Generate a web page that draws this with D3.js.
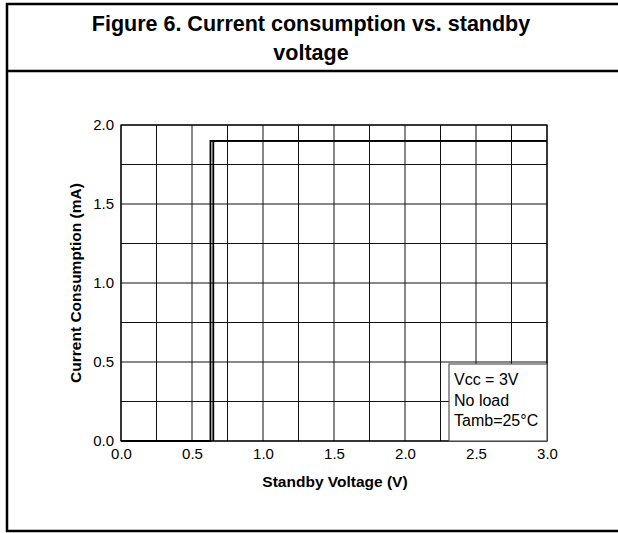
<!DOCTYPE html>
<html>
<head>
<meta charset="utf-8">
<script src="https://cdn.jsdelivr.net/npm/d3@7"></script>
<style>
  body { margin: 0; background: #fff; }
  svg { font-family: "Liberation Sans", Arial, sans-serif; }
</style>
</head>
<body>
<div id="chart"></div>
<script>
// Data
var xTicks = [0.0, 0.5, 1.0, 1.5, 2.0, 2.5, 3.0];
var yTicks = [0.0, 0.5, 1.0, 1.5, 2.0];
var riseVoltage = [0.0, 0.63, 0.63, 3.0];
var riseCurrent = [0.0, 0.0, 1.9, 1.9];
var fallVoltage = [0.65, 0.65, 3.0];
var fallCurrent = [0.0, 1.9, 1.9];
var noteLines = ["Vcc = 3V", "No load", "Tamb=25\u00b0C"];

(function () {
    var width = 618, height = 533;
    var plotLeft = 121, plotRight = 547, plotTop = 125, plotBottom = 441;

    var svg = d3.select('#chart')
        .append('svg')
        .attr('width', width)
        .attr('height', height);

    // outer frame and title separator
    svg.append('path')
        .attr('d', 'M620,4H7V531H620')
        .style('fill', 'none')
        .style('stroke', '#000')
        .style('stroke-width', 2.5);
    svg.append('line')
        .attr('x1', 7).attr('x2', 620)
        .attr('y1', 71).attr('y2', 71)
        .style('stroke', '#000')
        .style('stroke-width', 2.5);

    var title = svg.append('text')
        .attr('text-anchor', 'middle')
        .style('font-weight', 'bold')
        .style('font-size', '21.5px');
    title.append('tspan').attr('x', 311).attr('y', 31)
        .text('Figure 6. Current consumption vs. standby');
    title.append('tspan').attr('x', 311).attr('y', 60)
        .text('voltage');

    var x = d3.scaleLinear().domain([0, 3]).range([plotLeft, plotRight]);
    var y = d3.scaleLinear().domain([0, 2]).range([plotBottom, plotTop]);

    // grid, every 0.25
    var g = svg.append('g');
    g.selectAll('.vgrid').data(d3.range(0, 3.001, 0.25))
        .enter().append('line')
        .attr('class', 'vgrid')
        .attr('x1', function (d) { return x(d); })
        .attr('x2', function (d) { return x(d); })
        .attr('y1', plotTop).attr('y2', plotBottom)
        .style('stroke', '#111')
        .style('stroke-width', 1);
    g.selectAll('.hgrid').data(d3.range(0, 2.001, 0.25))
        .enter().append('line')
        .attr('class', 'hgrid')
        .attr('y1', function (d) { return y(d); })
        .attr('y2', function (d) { return y(d); })
        .attr('x1', plotLeft).attr('x2', plotRight)
        .style('stroke', '#111')
        .style('stroke-width', 1);

    // axes
    var xAxis = d3.axisBottom(x).tickValues(xTicks).tickSize(0).tickPadding(7)
        .tickFormat(d3.format('.1f'));
    var yAxis = d3.axisLeft(y).tickValues(yTicks).tickSize(0).tickPadding(7)
        .tickFormat(d3.format('.1f'));

    var gx = svg.append('g').attr('transform', 'translate(0,' + plotBottom + ')').call(xAxis);
    var gy = svg.append('g').attr('transform', 'translate(' + plotLeft + ',0)').call(yAxis);
    [gx, gy].forEach(function (a) {
        a.select('.domain').remove();
        a.selectAll('text')
            .style('font-family', '"Liberation Sans", Arial, sans-serif')
            .style('font-size', '15px')
            .style('fill', '#000');
    });

    svg.append('rect')
        .attr('x', plotLeft).attr('y', plotTop)
        .attr('width', plotRight - plotLeft).attr('height', plotBottom - plotTop)
        .style('fill', 'none')
        .style('stroke', '#000')
        .style('stroke-width', 1.2);

    // curves
    var line = d3.line()
        .x(function (d) { return x(d[0]); })
        .y(function (d) { return y(d[1]); });
    [[riseVoltage, riseCurrent], [fallVoltage, fallCurrent]].forEach(function (s) {
        svg.append('path')
            .datum(d3.zip(s[0], s[1]))
            .attr('d', line)
            .style('fill', 'none')
            .style('stroke', '#000')
            .style('stroke-width', 1.8);
    });

    // conditions box
    var bx = 449, by = 364;
    svg.append('rect')
        .attr('x', bx).attr('y', by)
        .attr('width', plotRight - bx).attr('height', plotBottom - by)
        .style('fill', '#fff')
        .style('stroke', '#555')
        .style('stroke-width', 1.2);
    svg.selectAll('.note').data(noteLines)
        .enter().append('text')
        .attr('class', 'note')
        .attr('x', bx + 5)
        .attr('y', function (d, i) { return by + 21 + i * 20.5; })
        .style('font-size', '16px')
        .text(function (d) { return d; });

    // axis titles
    svg.append('text')
        .attr('x', 335).attr('y', 487)
        .attr('text-anchor', 'middle')
        .style('font-weight', 'bold')
        .style('font-size', '15.5px')
        .text('Standby Voltage (V)');
    svg.append('text')
        .attr('transform', 'translate(81,' + ((plotTop + plotBottom) / 2) + ') rotate(-90)')
        .attr('text-anchor', 'middle')
        .style('font-weight', 'bold')
        .style('font-size', '15.5px')
        .text('Current Consumption (mA)');
})();
</script>
</body>
</html>
